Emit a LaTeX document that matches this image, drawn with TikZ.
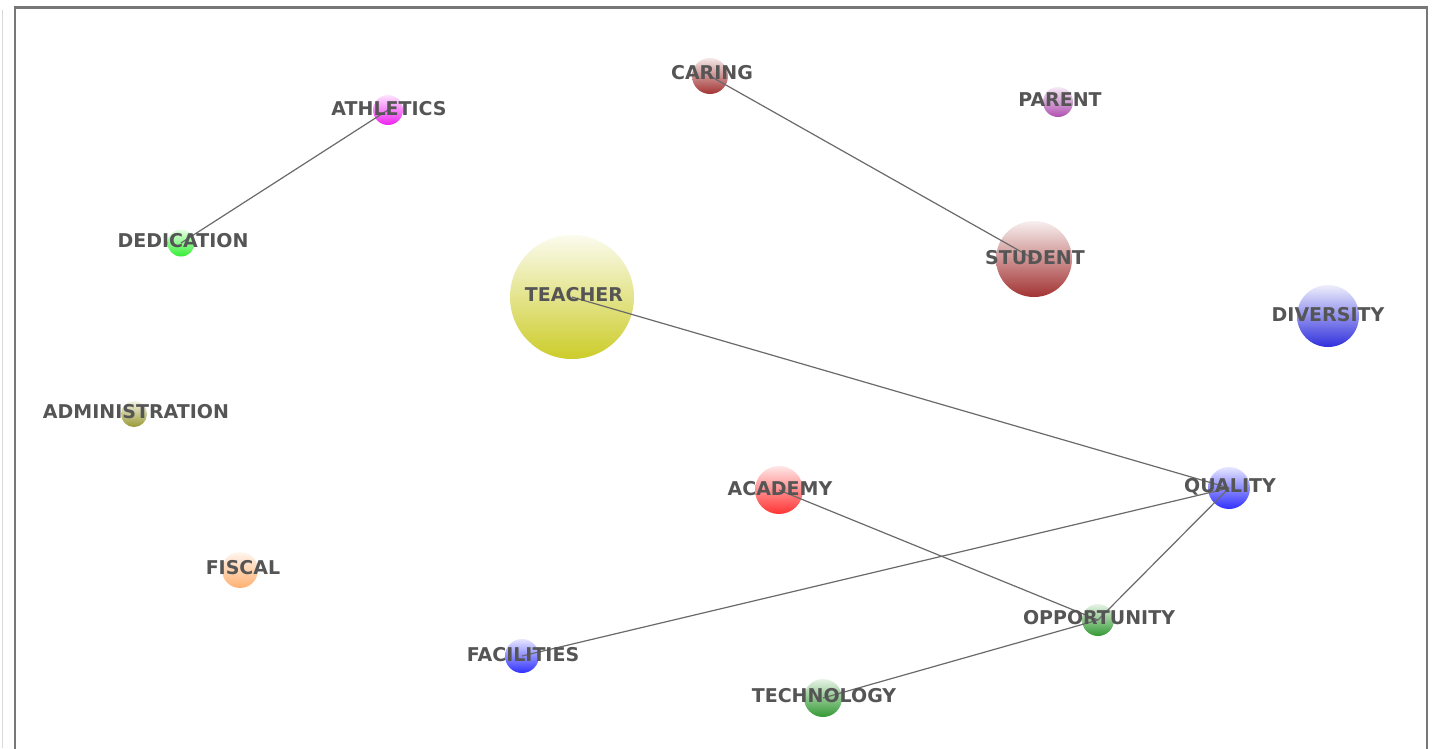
\documentclass[tikz,border=0pt]{standalone}
\usepackage{fontspec}
\setmainfont{DejaVu Sans}
\begin{document}
\begin{tikzpicture}[x=1pt,y=-1pt,
  bubble/.style={circle, inner sep=0pt, minimum size=#1, draw=none},
  lbl/.style={font=\bfseries\fontsize{19}{22}\selectfont, text=labelgray, inner sep=0pt},
  link/.style={draw=linkgray, line width=1.2pt}]
\definecolor{labelgray}{HTML}{555555}
\definecolor{linkgray}{HTML}{6A6A6A}
\definecolor{framegray}{HTML}{777777}
\definecolor{cAth}{HTML}{EE22EE}
\definecolor{cDed}{HTML}{33EE33}
\definecolor{cCar}{HTML}{A33333}
\definecolor{cPar}{HTML}{B050B0}
\definecolor{cTea}{HTML}{CCCC2A}
\definecolor{cStu}{HTML}{A33333}
\definecolor{cDiv}{HTML}{3030DD}
\definecolor{cAdm}{HTML}{999933}
\definecolor{cAca}{HTML}{FF3333}
\definecolor{cQua}{HTML}{3030FF}
\definecolor{cFis}{HTML}{FFB070}
\definecolor{cOpp}{HTML}{339933}
\definecolor{cFac}{HTML}{3030FF}
\definecolor{cTec}{HTML}{339933}
\useasboundingbox (0,0) rectangle (1436,748);
\fill[white] (0,0) rectangle (1436,748);
% frame
\draw[gray!30, line width=1.5pt] (2.5,10) -- (2.5,748);
\draw[framegray, line width=2.5pt] (15,760) -- (15,7.5) -- (1427,7.5) -- (1427,760);
% bubbles
\node[bubble=30, top color=cAth!12!white, bottom color=cAth] (ath) at (388,110) {};
\node[bubble=27, top color=cDed!12!white, bottom color=cDed] (ded) at (181,243) {};
\node[bubble=36, top color=cCar!12!white, bottom color=cCar] (car) at (710,76) {};
\node[bubble=30, top color=cPar!12!white, bottom color=cPar] (par) at (1058,102) {};
\node[bubble=124, top color=cTea!8!white, bottom color=cTea] (tea) at (572,297) {};
\node[bubble=76, top color=cStu!8!white, bottom color=cStu] (stu) at (1034,259) {};
\node[bubble=62, top color=cDiv!8!white, bottom color=cDiv] (div) at (1328,316) {};
\node[bubble=26, top color=cAdm!12!white, bottom color=cAdm] (adm) at (134,414) {};
\node[bubble=48, top color=cAca!12!white, bottom color=cAca] (aca) at (779,490) {};
\node[bubble=42, top color=cQua!12!white, bottom color=cQua] (qua) at (1229,488) {};
\node[bubble=36, top color=cFis!12!white, bottom color=cFis] (fis) at (240,570) {};
\node[bubble=32, top color=cOpp!12!white, bottom color=cOpp] (opp) at (1098,620) {};
\node[bubble=34, top color=cFac!12!white, bottom color=cFac] (fac) at (522,656) {};
\node[bubble=38, top color=cTec!12!white, bottom color=cTec] (tec) at (823,698) {};
% links
\draw[link] (ath.center) -- (ded.center);
\draw[link] (car.center) -- (stu.center);
\draw[link] (tea.center) -- (qua.center);
\draw[link] (qua.center) -- (fac.center);
\draw[link] (qua.center) -- (opp.center);
\draw[link] (aca.center) -- (opp.center);
\draw[link] (opp.center) -- (tec.center);
% labels
\node[lbl] (lath) at (389,109) {ATHLETICS};
\node[lbl] (lded) at (183,241) {DEDICATION};
\node[lbl] (lcar) at (712,73) {CARING};
\node[lbl] (lpar) at (1060,100) {PARENT};
\node[lbl] (ltea) at (574,295) {TEACHER};
\node[lbl] (lstu) at (1035,258) {STUDENT};
\node[lbl] (ldiv) at (1328,315) {DIVERSITY};
\node[lbl] (ladm) at (136,412) {ADMINISTRATION};
\node[lbl] (laca) at (780,489) {ACADEMY};
\node[lbl] (lqua) at (1230,487) {QUALITY};
\node[lbl] (lfis) at (243,568) {FISCAL};
\node[lbl] (lopp) at (1099,618) {OPPORTUNITY};
\node[lbl] (lfac) at (523,655) {FACILITIES};
\node[lbl] (ltec) at (824,696) {TECHNOLOGY};
\end{tikzpicture}
\end{document}
